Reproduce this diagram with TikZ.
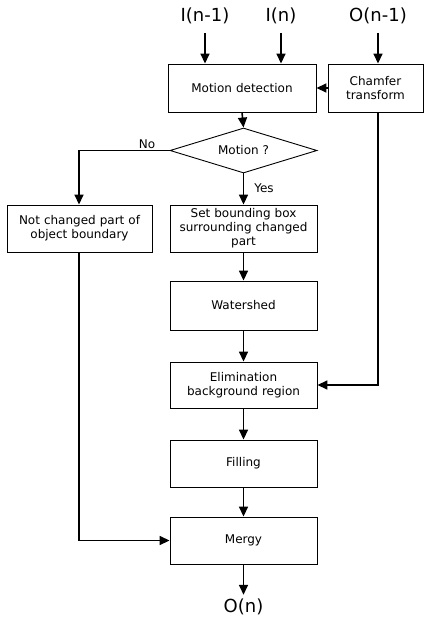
\documentclass[tikz,border=0pt]{standalone}
\usepackage{fontspec}
\setmainfont{DejaVu Sans}
\usetikzlibrary{arrows.meta,shapes.geometric,calc}
\begin{document}
\begin{tikzpicture}[x=1pt,y=-1pt,
  box/.style={draw,line width=0.9pt,rectangle,align=center,inner sep=2pt,
    font=\fontsize{12}{14}\selectfont,text width=#1-4pt},
  box/.default=147pt,
  decbox/.style={draw,line width=0.9pt,diamond,aspect=3.27,inner sep=0pt,
    minimum width=147pt,minimum height=45pt,font=\fontsize{12}{14}\selectfont},
  iolabel/.style={inner sep=0pt,font=\fontsize{18}{20}\selectfont},
  smalllabel/.style={inner sep=0pt,font=\fontsize{12}{14}\selectfont},
  flow/.style={line width=1.6pt,-{Triangle[length=10pt,width=9pt]}}]
\path[use as bounding box] (0,0) rectangle (426,617);

% input / output labels
\node[iolabel] (in1) at (205,16) {I(n-1)};
\node[iolabel] (in) at (281,16) {I(n)};
\node[iolabel] (on1) at (378,16) {O(n-1)};
\node[iolabel] (on) at (243.5,607) {O(n)};

% boxes
\node[box,minimum width=148pt,minimum height=48pt] (md) at (242,88) {Motion detection};
\node[box=95pt,minimum width=95pt,minimum height=48pt] (ch) at (375.5,88) {Chamfer\\transform};
\node[decbox] (dec) at (243.5,150.5) {Motion ?};
\node[box=145pt,minimum width=145pt,minimum height=47pt] (nc) at (79.5,228.5) {Not changed part of\\object boundary};
\node[box,minimum width=147pt,minimum height=47pt] (sb) at (243.5,228.5) {Set bounding box\\surrounding changed\\part};
\node[box,minimum width=147pt,minimum height=49pt] (ws) at (243.5,305.5) {Watershed};
\node[box,minimum width=147pt,minimum height=46pt] (el) at (243.5,385) {Elimination\\background region};
\node[box,minimum width=147pt,minimum height=47pt] (fi) at (243.5,463.5) {Filling};
\node[box,minimum width=147pt,minimum height=47pt] (me) at (243.5,540.5) {Mergy};

% coordinates for inputs
\coordinate (a1) at (205,33);
\coordinate (a2) at (281,33);
\coordinate (a3) at (378,33);
\coordinate (c1) at (378,385);
\coordinate (n1) at (79,150.5);
\coordinate (n2) at (79,540.5);

% connectors
\draw[flow] (a1) -- (a1 |- md.north);
\draw[flow] (a2) -- (a2 |- md.north);
\draw[flow] (a3) -- (a3 |- ch.north);
\draw[flow] (ch.west) -- (md.east);
\draw[flow] (md.south) -- (dec.north);
\draw[flow] (dec.west) -- (n1) -- (nc.north -| n1);
\draw[flow] (dec.south) -- (sb.north);
\draw[flow] (sb.south) -- (ws.north);
\draw[flow] (ws.south) -- (el.north);
\draw[flow] (a3 |- ch.south) -- (c1) -- (el.east);
\draw[flow] (el.south) -- (fi.north);
\draw[flow] (fi.south) -- (me.north);
\draw[flow] (nc.south -| n1) -- (n2) -- (me.west);
\draw[flow] (me.south) -- ($(on.north)+(0,-4)$);

% branch labels
\node[smalllabel] (no) at (147,144) {No};
\node[smalllabel] (yes) at (264,188) {Yes};
\end{tikzpicture}
\end{document}
